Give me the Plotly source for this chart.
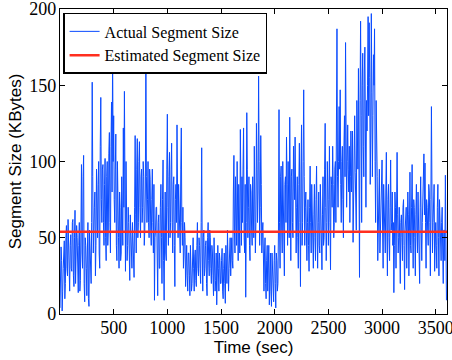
import plotly.graph_objects as go

# sample interval (sec) of the actual-segment series
SAMPLE_STEP = 10

# samples at t = 0, 10, 20, ... sec
actual_size_even = (
    [4, 44, 2, 30, 48, 20, 58, 25, 40, 15]
    + [52, 28, 62, 18, 68, 35, 50, 14, 60, 22]
    + [98, 30, 104, 8, 45, 12, 60, 5, 35, 20]
    + [152, 40, 70, 25, 95, 50, 100, 30, 142, 60]
    + [98, 45, 102, 35, 100, 55, 119, 40, 139, 172]
    + [130, 60, 118, 35, 85, 30, 70, 40, 60, 122]
    + [146, 28, 80, 45, 60, 22, 55, 30, 50, 24]
    + [117, 40, 115, 60, 113, 50, 95, 70, 90, 55]
    + [175, 60, 100, 50, 88, 45, 95, 40, 9, 55]
    + [70, 12, 65, 30, 85, 20, 101, 9, 80, 35]
    + [131, 45, 106, 60, 112, 40, 90, 18, 85, 124]
    + [50, 70, 40, 122, 45, 30, 60, 18, 45, 15]
    + [40, 12, 35, 20, 50, 15, 42, 18, 60, 25]
    + [45, 20, 109, 15, 55, 30, 48, 12, 60, 25]
    + [50, 20, 40, 12, 38, 22, 6, 45, 15, 35]
    + [20, 43, 10, 40, 7, 30, 55, 15, 45, 25]
    + [50, 30, 104, 40, 70, 100, 35, 60, 121, 45]
    + [60, 122, 40, 11, 132, 50, 90, 35, 80, 45]
    + [70, 110, 40, 125, 60, 156, 45, 117, 40, 60]
    + [15, 50, 10, 45, 25, 6, 40, 5, 30, 8]
    + [45, 4, 35, 20, 134, 30, 97, 40, 80, 25]
    + [90, 116, 45, 70, 129, 35, 95, 50, 85, 116]
    + [40, 90, 30, 112, 18, 124, 60, 147, 45, 80]
    + [35, 75, 28, 97, 40, 70, 30, 85, 35, 97]
    + [30, 80, 40, 70, 29, 90, 50, 125, 35, 100]
    + [45, 110, 29, 85, 110, 50, 95, 60, 187, 70]
    + [136, 147, 60, 110, 50, 130, 178, 70, 124, 80]
    + [60, 120, 105, 47, 100, 93, 55, 110, 161, 24]
    + [192, 60, 171, 90, 175, 70, 120, 195, 191, 85]
    + [197, 90, 170, 187, 60, 118, 35, 80, 40, 75]
    + [101, 30, 70, 40, 106, 25, 85, 35, 101, 60]
    + [45, 14, 80, 30, 106, 40, 70, 20, 65, 35]
    + [75, 16, 60, 30, 80, 25, 93, 40, 98, 30]
    + [70, 25, 85, 40, 60, 20, 90, 35, 75, 105]
    + [99, 30, 70, 45, 80, 25, 136, 40, 70, 28]
    + [60, 30, 85, 25, 65, 35, 70, 20, 55, 91]
    + [9]
)

# samples at t = 5, 15, 25, ... sec
actual_size_odd = (
    [20, 35, 15, 42, 10, 50, 30, 62, 18, 45]
    + [30, 60, 25, 50, 20, 58, 30, 45, 15, 55]
    + [40, 90, 20, 50, 30, 40, 10, 55, 25, 60]
    + [90, 55, 80, 45, 70, 85, 40, 110, 75, 95]
    + [60, 85, 50, 90, 45, 105, 60, 110, 80, 100]
    + [75, 95, 45, 100, 50, 80, 35, 90, 45, 70]
    + [60, 100, 35, 70, 40, 65, 35, 60, 30, 70]
    + [65, 95, 50, 100, 70, 90, 60, 100, 45, 80]
    + [90, 75, 60, 95, 55, 75, 60, 85, 50, 70]
    + [40, 60, 30, 70, 50, 75, 35, 55, 40, 95]
    + [70, 90, 50, 95, 60, 85, 45, 75, 60, 80]
    + [85, 55, 95, 60, 70, 40, 50, 35, 25, 40]
    + [25, 45, 15, 40, 30, 38, 22, 45, 30, 50]
    + [30, 60, 40, 50, 25, 45, 20, 50, 35, 55]
    + [30, 45, 25, 50, 15, 40, 25, 30, 40, 20]
    + [35, 15, 30, 20, 45, 20, 35, 30, 50, 40]
    + [35, 80, 55, 90, 45, 65, 85, 40, 70, 90]
    + [95, 50, 85, 60, 95, 70, 45, 85, 55, 90]
    + [50, 85, 60, 95, 80, 100, 70, 85, 55, 35]
    + [40, 20, 35, 15, 45, 25, 15, 40, 20, 35]
    + [20, 40, 15, 55, 60, 90, 55, 100, 45, 85]
    + [60, 85, 100, 50, 80, 90, 60, 110, 75, 55]
    + [70, 50, 85, 60, 95, 45, 100, 90, 70, 55]
    + [60, 45, 70, 60, 85, 45, 65, 50, 75, 55]
    + [60, 45, 85, 55, 65, 45, 95, 70, 60, 80]
    + [75, 60, 90, 70, 85, 60, 100, 120, 90, 100]
    + [95, 85, 100, 75, 110, 90, 120, 100, 95, 110]
    + [90, 80, 120, 85, 130, 75, 140, 95, 120, 140]
    + [130, 150, 110, 160, 120, 140, 150, 130, 155, 120]
    + [145, 130, 150, 100, 140, 90, 70, 95, 60, 90]
    + [55, 85, 60, 80, 55, 75, 50, 70, 55, 80]
    + [60, 45, 70, 55, 65, 50, 45, 60, 50, 70]
    + [45, 55, 70, 50, 65, 55, 45, 70, 55, 75]
    + [50, 65, 55, 80, 45, 70, 55, 60, 80, 65]
    + [60, 75, 55, 85, 60, 75, 80, 60, 85, 50]
    + [45, 70, 50, 75, 45, 60, 40, 55, 35, 50]
)

# merge the two sample sets in time order
actual_time = []
actual_size = []
for i, v in enumerate(actual_size_even):
    actual_time.append(i * SAMPLE_STEP)
    actual_size.append(v)
    if i < len(actual_size_odd):
        actual_time.append(i * SAMPLE_STEP + SAMPLE_STEP // 2)
        actual_size.append(actual_size_odd[i])

estimated_time = [0, 3605]
estimated_size = [54, 54]

x_tick_vals = [500, 1000, 1500, 2000, 2500, 3000, 3500]
x_tick_text = ["500", "1000", "1500", "2000", "2500", "3000", "3500"]
y_tick_vals = [0, 50, 100, 150, 200]
y_tick_text = ["0", "50", "100", "150", "200"]

fig = go.Figure()
fig.add_trace(go.Scatter(
    x=actual_time, y=actual_size, mode="lines",
    name="Actual Segment Size",
    line=dict(color="#0a4bff", width=1),
))
fig.add_trace(go.Scatter(
    x=estimated_time, y=estimated_size, mode="lines",
    name="Estimated Segment Size",
    line=dict(color="#ff2f1f", width=2.5),
))

tick_font = dict(family="Liberation Serif, Times New Roman, serif", size=18, color="black")
title_font = dict(family="Liberation Sans, Arial, Helvetica, sans-serif", size=17, color="black")

fig.update_layout(
    width=452, height=360,
    margin=dict(l=60, r=5, t=9, b=46),
    paper_bgcolor="white", plot_bgcolor="white",
    showlegend=True,
    legend=dict(
        x=0.008, y=0.987, xanchor="left", yanchor="top",
        bgcolor="white", bordercolor="black", borderwidth=1.5,
        font=dict(family="Liberation Serif, Times New Roman, serif", size=16, color="black"),
        tracegroupgap=0, itemwidth=30,
    ),
    xaxis=dict(
        range=[0, 3605], tickmode="array", tickvals=x_tick_vals, ticktext=x_tick_text,
        ticks="inside", ticklen=5, tickcolor="black", tickwidth=1,
        showline=True, linecolor="black", linewidth=1.3, mirror="ticks",
        showgrid=False, zeroline=False, tickfont=tick_font,
        ticklabeloverflow="allow", automargin=False, ticklabelstandoff=-3,
        title=dict(text="Time (sec)", font=title_font, standoff=0),
    ),
    yaxis=dict(
        range=[0, 200], tickmode="array", tickvals=y_tick_vals, ticktext=y_tick_text,
        ticks="inside", ticklen=5, tickcolor="black", tickwidth=1,
        showline=True, linecolor="black", linewidth=1.3, mirror="ticks",
        showgrid=False, zeroline=False, tickfont=tick_font,
        ticklabeloverflow="allow", automargin=False, ticklabelstandoff=-1,
        title=dict(text="Segment Size (KBytes)", font=title_font, standoff=3),
    ),
)

fig.write_html(
    "out.html",
    config={"displayModeBar": False},
    post_script="document.body.style.margin='0';",
)
